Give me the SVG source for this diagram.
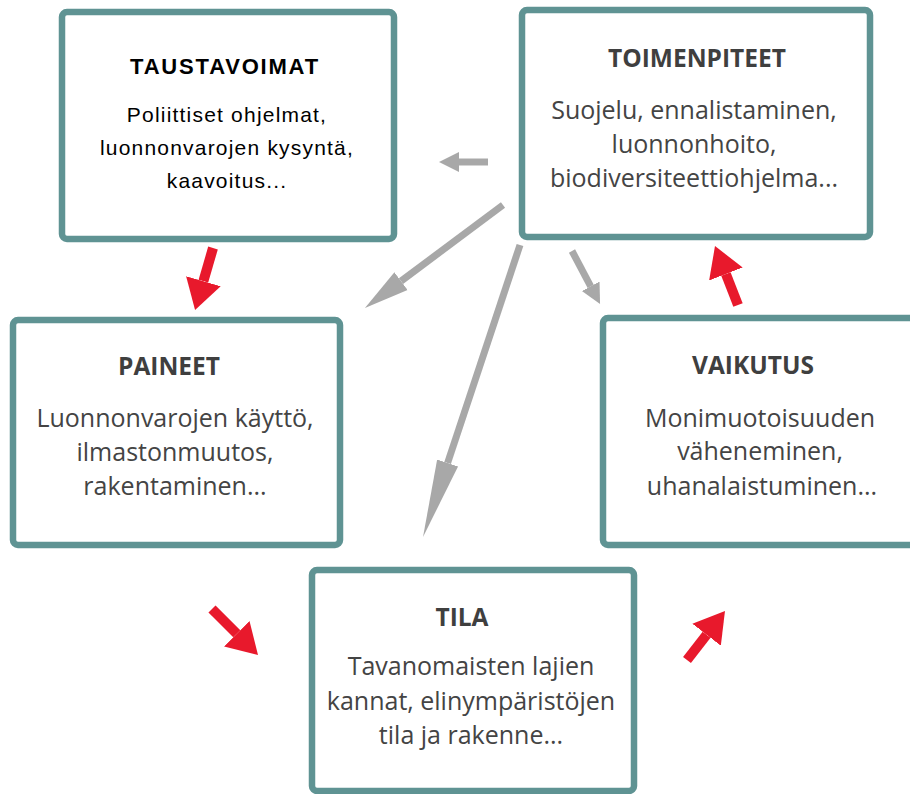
<svg xmlns="http://www.w3.org/2000/svg" width="910" height="794" viewBox="0 0 910 794">
  <style>
    .box { fill: #ffffff; stroke: #5f9393; stroke-width: 6.5; }
    .title { font-family: "Open Sans", "Noto Sans", sans-serif; font-weight: bold; font-size: 24.5px; fill: #3f3f3f; text-anchor: middle; }
    .body { font-family: "Open Sans", "Noto Sans", sans-serif; font-size: 25px; fill: #444444; text-anchor: middle; }
    .atitle { font-family: "Liberation Sans", Arial, sans-serif; font-weight: bold; font-size: 22px; letter-spacing: 1.8px; fill: #000000; text-anchor: middle; }
    .abody { font-family: "Liberation Sans", Arial, sans-serif; font-size: 21px; letter-spacing: 1.2px; fill: #000000; text-anchor: middle; }
    .red { stroke: #e8192c; stroke-width: 10; fill: none; marker-end: url(#headRed); }
    .gray { stroke: #a8a8a8; stroke-width: 7; fill: none; }
  </style>
  <defs>
    <marker id="headRed" markerUnits="userSpaceOnUse" orient="auto" viewBox="0 -20 32 40" markerWidth="32" markerHeight="40" refX="0" refY="0">
      <path d="M0,-18 L30,0 L0,18 z" fill="#e8192c"/>
    </marker>
    <marker id="headGrayShort" markerUnits="userSpaceOnUse" orient="auto" viewBox="0 -12 22 24" markerWidth="22" markerHeight="24" refX="0" refY="0">
      <path d="M0,-10 L20,0 L0,10 z" fill="#a8a8a8"/>
    </marker>
    <marker id="headGrayMid" markerUnits="userSpaceOnUse" orient="auto" viewBox="0 -12 47 24" markerWidth="47" markerHeight="24" refX="0" refY="0">
      <path d="M0,-11 L45,0 L0,11 z" fill="#a8a8a8"/>
    </marker>
    <marker id="headGrayLong" markerUnits="userSpaceOnUse" orient="auto" viewBox="0 -12 80 24" markerWidth="80" markerHeight="24" refX="0" refY="0">
      <path d="M0,-11 L78,0 L0,11 z" fill="#a8a8a8"/>
    </marker>
  </defs>

  <rect width="910" height="794" fill="#ffffff"/>

  <!-- connectors -->
  <g id="connectors">
    <!-- red cycle arrows -->
    <line class="red" x1="213" y1="248" x2="203.4" y2="281.2"/>
    <line class="red" x1="212" y1="609" x2="236.8" y2="633.8"/>
    <line class="red" x1="687" y1="660" x2="706.6" y2="634.7"/>
    <line class="red" x1="738" y1="305" x2="725.9" y2="274"/>
    <!-- grey arrows from the measures box -->
    <line class="gray" x1="488" y1="162" x2="459" y2="162" marker-end="url(#headGrayShort)"/>
    <line class="gray" x1="503" y1="205" x2="401" y2="281.1" marker-end="url(#headGrayMid)"/>
    <line class="gray" x1="520" y1="245" x2="447.6" y2="463" marker-end="url(#headGrayLong)"/>
    <line class="gray" x1="572" y1="251" x2="590.7" y2="286.3" marker-end="url(#headGrayShort)"/>
  </g>

  <g id="taustavoimat">
    <rect class="box" x="62" y="12" width="332" height="227" rx="5"/>
    <text class="atitle" x="225" y="74">TAUSTAVOIMAT</text>
    <text class="abody" x="227" y="122">Poliittiset ohjelmat,</text>
    <text class="abody" x="227" y="155">luonnonvarojen kysyntä,</text>
    <text class="abody" x="227" y="188">kaavoitus...</text>
  </g>

  <g id="toimenpiteet">
    <rect class="box" x="522" y="10" width="348" height="227" rx="5"/>
    <text class="title" x="697" y="67">TOIMENPITEET</text>
    <text class="body" x="694" y="119">Suojelu, ennalistaminen,</text>
    <text class="body" x="694" y="153">luonnonhoito,</text>
    <text class="body" x="694" y="187">biodiversiteettiohjelma...</text>
  </g>

  <g id="paineet">
    <rect class="box" x="13" y="320" width="327" height="225" rx="5"/>
    <text class="title" x="169" y="375">PAINEET</text>
    <text class="body" x="175" y="427">Luonnonvarojen käyttö,</text>
    <text class="body" x="175" y="461">ilmastonmuutos,</text>
    <text class="body" x="175" y="495">rakentaminen...</text>
  </g>

  <g id="vaikutus">
    <rect class="box" x="603" y="318" width="316" height="227" rx="5"/>
    <text class="title" x="753" y="374">VAIKUTUS</text>
    <text class="body" x="760" y="427">Monimuotoisuuden</text>
    <text class="body" x="760" y="460">väheneminen,</text>
    <text class="body" x="762" y="495">uhanalaistuminen...</text>
  </g>

  <g id="tila">
    <rect class="box" x="312" y="570" width="322" height="221" rx="5"/>
    <text class="title" x="462" y="626">TILA</text>
    <text class="body" x="471" y="675">Tavanomaisten lajien</text>
    <text class="body" x="471" y="710">kannat, elinympäristöjen</text>
    <text class="body" x="471" y="744">tila ja rakenne...</text>
  </g>
</svg>
